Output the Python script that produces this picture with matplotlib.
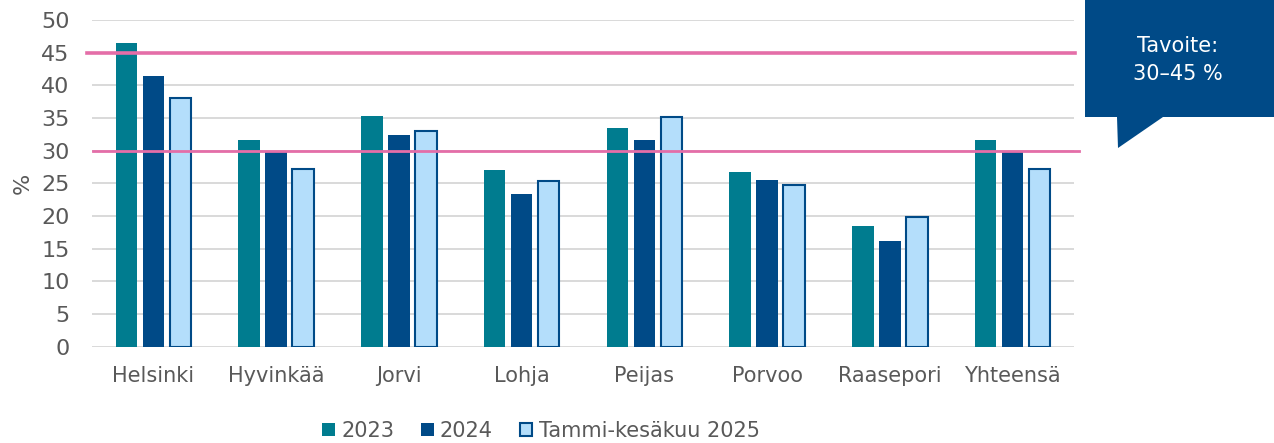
import numpy as np
import matplotlib
matplotlib.use("Agg")
import matplotlib.pyplot as plt
from matplotlib.patches import Polygon

# data
categories = ["Helsinki", "Hyvinkää", "Jorvi", "Lohja", "Peijas", "Porvoo", "Raasepori", "Yhteensä"]
v2023 = [46.5, 31.6, 35.3, 27.1, 33.4, 26.7, 18.5, 31.6]
v2024 = [41.5, 30.0, 32.4, 23.3, 31.6, 25.5, 16.1, 30.0]
v2025 = [38.0, 27.2, 33.0, 25.4, 35.1, 24.8, 19.8, 27.2]
series_names = ["2023", "2024", "Tammi-kesäkuu 2025"]
target_low, target_high = 30, 45
yticks = list(range(0, 51, 5))

teal = "#007C8F"
dblue = "#004A87"
lblue = "#B4DEFB"
pink = "#E46EA8"
grey = "#595959"

plt.rcParams['font.family'] = ['DejaVu Sans']

fig = plt.figure(figsize=(12.74, 4.43), dpi=100)
ax = fig.add_axes([0.0722, 0.2174, 0.843 - 0.0722, 0.9549 - 0.2174])

x = np.arange(len(categories))
step = 0.22
w = 0.175
ax.bar(x - step, v2023, w, color=teal, label=series_names[0], zorder=3)
ax.bar(x, v2024, w, color=dblue, label=series_names[1], zorder=3)
ax.bar(x + step, v2025, w, color=lblue, edgecolor=dblue, linewidth=1.5,
       label=series_names[2], zorder=3)

ax.set_xlim(-0.5, len(categories) - 0.5)
ax.set_ylim(0, 50)
ax.set_yticks(yticks)
ax.yaxis.grid(True, color="#D9D9D9", linewidth=1.4, zorder=0)
ax.set_axisbelow(True)
for s in ax.spines.values():
    s.set_visible(False)
ax.tick_params(axis="both", length=0, colors=grey)
ax.tick_params(axis="x", pad=14, labelsize=15)
ax.tick_params(axis="y", pad=16, labelsize=16)
ax.set_xticks(x)
ax.set_xticklabels(categories)
ax.set_ylabel("%", fontsize=16, color=grey, labelpad=6)

# target lines, extend a bit beyond the axes
x0, x1 = ax.get_xlim()
ax.plot([x0 - 0.04, x1 + 0.01], [target_high, target_high], color=pink,
        linewidth=2.6, clip_on=False, zorder=4)
ax.plot([x0 + 0.01, x1 + 0.04], [target_low, target_low], color=pink,
        linewidth=2.0, clip_on=False, zorder=4)

# callout box
W, H = 1274, 443
box = Polygon([(1085 / W, 1.0), (1.0, 1.0), (1.0, 1 - 117 / H),
               (1163 / W, 1 - 117 / H), (1118 / W, 1 - 148 / H),
               (1117 / W, 1 - 117 / H), (1085 / W, 1 - 117 / H)],
              closed=True, transform=fig.transFigure, facecolor=dblue,
              edgecolor="none", zorder=5)
fig.patches.append(box)
fig.text(1178 / W, 1 - 60 / H, "Tavoite:\n30–45 %", color="white",
         fontsize=15, ha="center", va="center", linespacing=1.45, zorder=10)

leg = fig.legend(loc="center", bbox_to_anchor=(541 / W, 1 - 431 / H), ncol=3,
                 frameon=False, fontsize=15, handlelength=0.6, handleheight=0.6,
                 handletextpad=0.3, columnspacing=1.3)
for t in leg.get_texts():
    t.set_color(grey)

fig.savefig("out.png", dpi=100)
